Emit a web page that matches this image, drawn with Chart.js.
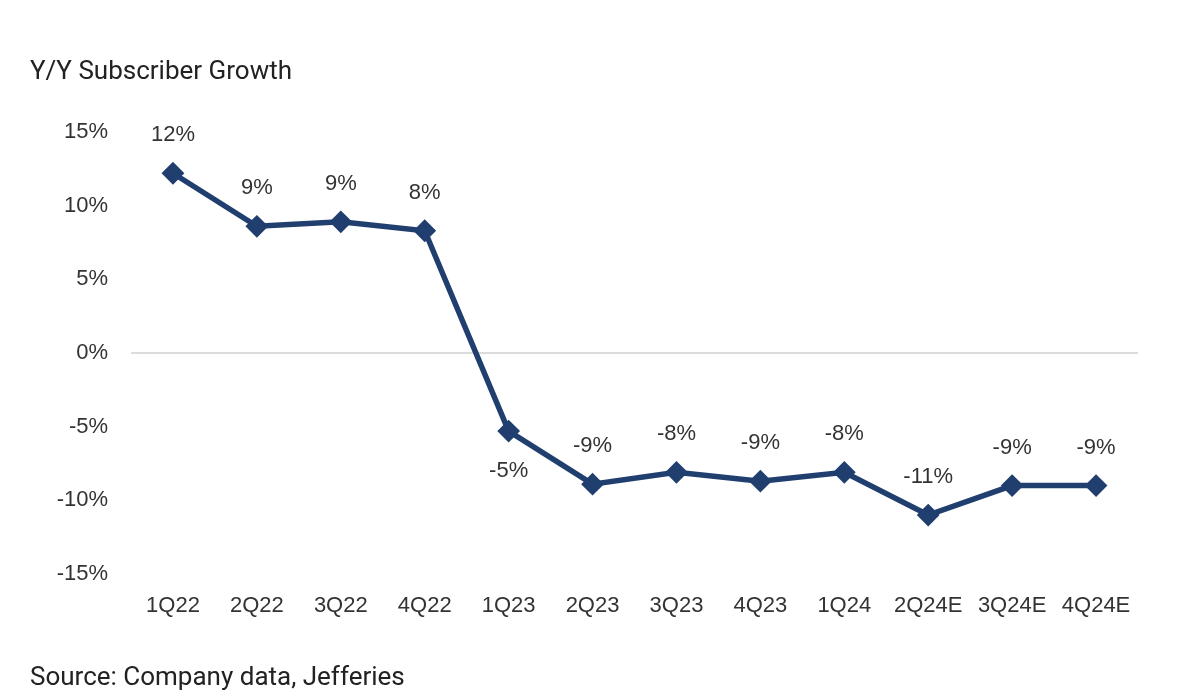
<!DOCTYPE html>
<html>
<head>
<meta charset="utf-8">
<script src="https://cdn.jsdelivr.net/npm/chart.js@4"></script>
<style>
  body { margin: 0; background: #fff; }
  #wrap { position: relative; width: 1200px; height: 690px; overflow: hidden; }
  #chartGrowth { position: absolute; left: 0; top: 0; }
  .titulo { position: absolute; left: 30px; top: 55px; font: 26px Roboto, sans-serif; color: #222; }
  .fuente { position: absolute; left: 30px; top: 661px; font: 26px Roboto, sans-serif; color: #222; }
</style>
</head>
<body>
<div id="wrap">
  <canvas id="chartGrowth" width="1200" height="690"></canvas>
  <div class="titulo">Y/Y Subscriber Growth</div>
  <div class="fuente">Source: Company data, Jefferies</div>
</div>
<script>
const trimestres = ['1Q22', '2Q22', '3Q22', '4Q22', '1Q23', '2Q23', '3Q23', '4Q23', '1Q24', '2Q24E', '3Q24E', '4Q24E'];
const crecimiento = [12.2, 8.6, 8.9, 8.3, -5.3, -8.9, -8.1, -8.7, -8.1, -11.0, -9.0, -9.0];
const ticksY = [-15, -10, -5, 0, 5, 10, 15];

const azul = '#203f6f';
const fuenteEjes = { family: '"Liberation Sans", Arial, sans-serif', size: 22 };

// etiquetas de valor encima (o debajo) de cada punto
const etiquetasPlugin = {
    id: 'etiquetas',
    afterDatasetsDraw(chart, args, opts) {
        const ctx = chart.ctx;
        const meta = chart.getDatasetMeta(0);
        ctx.save();
        ctx.font = `${fuenteEjes.size}px ${fuenteEjes.family}`;
        ctx.fillStyle = '#333';
        ctx.textAlign = 'center';
        ctx.textBaseline = 'middle';
        meta.data.forEach((pt, i) => {
            const v = chart.data.datasets[0].data[i];
            const abajo = opts.debajo.includes(i);
            const y = abajo ? pt.y + 40 : pt.y - 38;
            ctx.fillText(Math.round(v) + '%', pt.x, y);
        });
        ctx.restore();
    }
};

new Chart(document.getElementById('chartGrowth').getContext('2d'), {
    type: 'line',
    data: {
        labels: trimestres,
        datasets: [{
            data: crecimiento,
            borderColor: azul,
            backgroundColor: azul,
            borderWidth: 5.5,
            pointStyle: 'rectRot',
            pointRadius: 10,
            pointBorderWidth: 2,
            pointBackgroundColor: azul,
            pointBorderColor: azul,
            tension: 0
        }]
    },
    options: {
        responsive: false,
        animation: false,
        layout: { padding: { top: 132, right: 62, bottom: 0, left: 0 } },
        plugins: {
            legend: { display: false },
            tooltip: { enabled: false },
            etiquetas: { debajo: [4] }
        },
        scales: {
            x: {
                offset: true,
                grid: { display: false, drawTicks: false },
                border: { display: false },
                ticks: { color: '#333', font: fuenteEjes, padding: 19, maxRotation: 0, autoSkip: false },
                afterFit: (s) => { s.height = 116; }
            },
            y: {
                min: -15,
                max: 15,
                afterBuildTicks: (s) => { s.ticks = ticksY.map(v => ({ value: v })); },
                grid: {
                    drawTicks: false,
                    lineWidth: 2,
                    color: (c) => (c.tick && c.tick.value === 0) ? '#dcdcdc' : 'rgba(0,0,0,0)'
                },
                border: { display: false },
                ticks: { color: '#333', font: fuenteEjes, padding: 23, callback: v => v + '%' },
                afterFit: (s) => { s.width = 131; }
            }
        }
    },
    plugins: [etiquetasPlugin]
});
</script>
</body>
</html>
